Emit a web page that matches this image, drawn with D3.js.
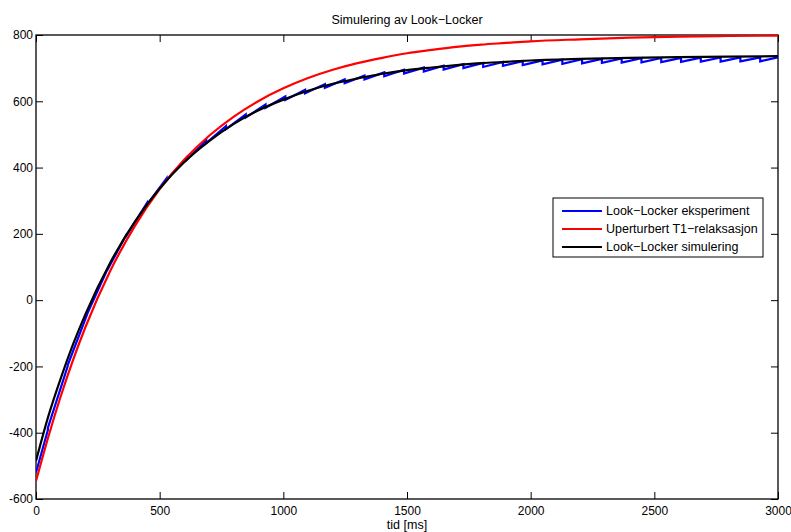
<!DOCTYPE html>
<html><head><meta charset="utf-8">
<script src="https://cdn.jsdelivr.net/npm/d3@7"></script>
<style>
body{margin:0;background:#fff;}
text{font-family:"Liberation Sans",Arial,Helvetica,sans-serif;}
</style></head>
<body>
<svg id="c" width="791" height="532"></svg>
<script>
// ---- data ----
const title = "Simulering av Look\u2212Locker";
const xLabel = "tid [ms]";
const legendLabels = ["Look\u2212Locker eksperiment", "Uperturbert T1\u2212relaksasjon", "Look\u2212Locker simulering"];
const seriesColors = ["#0000ff", "#ff0000", "#000000"];
const xTicks = [0, 500, 1000, 1500, 2000, 2500, 3000];
const yTicks = [-600, -400, -200, 0, 200, 400, 600, 800];

// smooth curves sampled in time (ms)
const curveTimes = [0,50,100,150,200,300,400,500,600,700,800,900,1000,1100,1200,1300,1400,1500,1600,1700,1800,1900,2000,2200,2400,2600,2800,3000];
const redValues  = [-546,-412,-290,-180,-81,88,224,335,424,496,554,601,639,670,695,715,731,745,755,764,771,776,781,787,792,795,797,798];
const blackValues= [-485,-350,-236,-133,-42,113,237,337,417,480,532,573,605,632,653,669,683,694,702,709,715,719,723,728,731,733,735,736];

// experiment: sawtooth, value just before and just after each pulse
const blueStart = [0, -520];
const blueEnd = [3000, 732.5];
const blueTimes = [48,128,208,288,368,448,528,608,688,768,848,928,1008,1088,1168,1248,1328,1408,1488,1568,1648,1728,1808,1888,1968,2048,2128,2208,2288,2368,2448,2528,2608,2688,2768,2848,2928];
const blueTop = [-391.8,-199.8,-40.5,91.6,201.2,292.1,367.5,430.0,481.8,524.9,560.5,590.1,614.6,634.9,651.8,665.8,677.4,687.1,695.1,701.7,707.2,711.8,715.6,718.7,721.3,723.5,725.3,726.8,728.1,729.1,729.9,730.6,731.2,731.7,732.1,732.4,732.7];
const blueBottom = [-385.3,-196.5,-39.8,90.1,197.8,287.2,361.4,422.8,473.8,516.1,551.1,580.2,604.3,624.3,640.9,654.7,666.1,675.6,683.5,690.0,695.4,699.9,703.6,706.7,709.3,711.4,713.2,714.7,715.9,716.9,717.7,718.4,719.0,719.5,719.9,720.2,720.5];

// ---- layout ----
const L = 36, R = 778, T = 35, B = 499;
const svg = d3.select("#c");
const x = d3.scaleLinear().domain([0, 3000]).range([L, R]);
const y = d3.scaleLinear().domain([-600, 800]).range([B, T]);

svg.append("clipPath").attr("id","clip").append("rect")
  .attr("x", L).attr("y", T - 2).attr("width", R - L).attr("height", B - T + 4);

// axes: ticks inward on all four sides
const tickLen = 7;
const fsTick = "12px";
const fsText = "12.5px";
const axB = svg.append("g").attr("transform", `translate(0,${B})`)
  .call(d3.axisBottom(x).tickValues(xTicks).tickSizeInner(-tickLen).tickSizeOuter(0).tickFormat(d => String(d)));
const axT = svg.append("g").attr("transform", `translate(0,${T})`)
  .call(d3.axisTop(x).tickValues(xTicks).tickSizeInner(-tickLen).tickSizeOuter(0).tickFormat(""));
const axL = svg.append("g").attr("transform", `translate(${L},0)`)
  .call(d3.axisLeft(y).tickValues(yTicks).tickSizeInner(-tickLen).tickSizeOuter(0).tickPadding(3).tickFormat(d => String(d)));
const axR = svg.append("g").attr("transform", `translate(${R},0)`)
  .call(d3.axisRight(y).tickValues(yTicks).tickSizeInner(-tickLen).tickSizeOuter(0).tickFormat(""));
[axB, axT, axL, axR].forEach(g => {
  g.select(".domain").remove();
  g.selectAll("line").attr("stroke", "#000").attr("stroke-width", 1);
  g.selectAll("text").attr("fill", "#000").style("font-size", fsTick).style("font-family", '"Liberation Sans",Arial,sans-serif');
});
axB.selectAll("text").attr("dy", "0.35em").attr("y", 12);

// frame
svg.append("rect").attr("x", L).attr("y", T).attr("width", R - L).attr("height", B - T)
  .attr("fill", "none").attr("stroke", "#000").attr("stroke-width", 1.3);

// lines
const plot = svg.append("g").attr("clip-path", "url(#clip)");
const smooth = d3.line().x(d => x(d[0])).y(d => y(d[1])).curve(d3.curveMonotoneX);
const straight = d3.line().x(d => x(d[0])).y(d => y(d[1]));

const bluePts = [blueStart];
blueTimes.forEach((t, i) => { bluePts.push([t, blueTop[i]]); bluePts.push([t, blueBottom[i]]); });
bluePts.push(blueEnd);

plot.append("path").datum(bluePts).attr("d", straight)
  .attr("fill", "none").attr("stroke", seriesColors[0]).attr("stroke-width", 2.2).attr("stroke-linejoin", "miter");
plot.append("path").datum(curveTimes.map((t, i) => [t, redValues[i]])).attr("d", smooth)
  .attr("fill", "none").attr("stroke", seriesColors[1]).attr("stroke-width", 2.2);
plot.append("path").datum(curveTimes.map((t, i) => [t, blackValues[i]])).attr("d", smooth)
  .attr("fill", "none").attr("stroke", seriesColors[2]).attr("stroke-width", 2.2);

// title and label
svg.append("text").attr("x", 407).attr("y", 24).attr("text-anchor", "middle")
  .style("font-size", fsText).text(title);
svg.append("text").attr("x", 407).attr("y", 529).attr("text-anchor", "middle")
  .style("font-size", fsText).text(xLabel);

// legend
const lg = svg.append("g");
lg.append("rect").attr("x", 553).attr("y", 198).attr("width", 210).attr("height", 59)
  .attr("fill", "#fff").attr("stroke", "#000").attr("stroke-width", 1);
legendLabels.forEach((lab, i) => {
  const yy = 211 + i * 18;
  lg.append("line").attr("x1", 562).attr("x2", 602).attr("y1", yy).attr("y2", yy)
    .attr("stroke", seriesColors[i]).attr("stroke-width", 2.2);
  lg.append("text").attr("x", 606).attr("y", yy).attr("dy", "0.35em")
    .style("font-size", fsText).text(lab);
});
</script>
</body></html>
